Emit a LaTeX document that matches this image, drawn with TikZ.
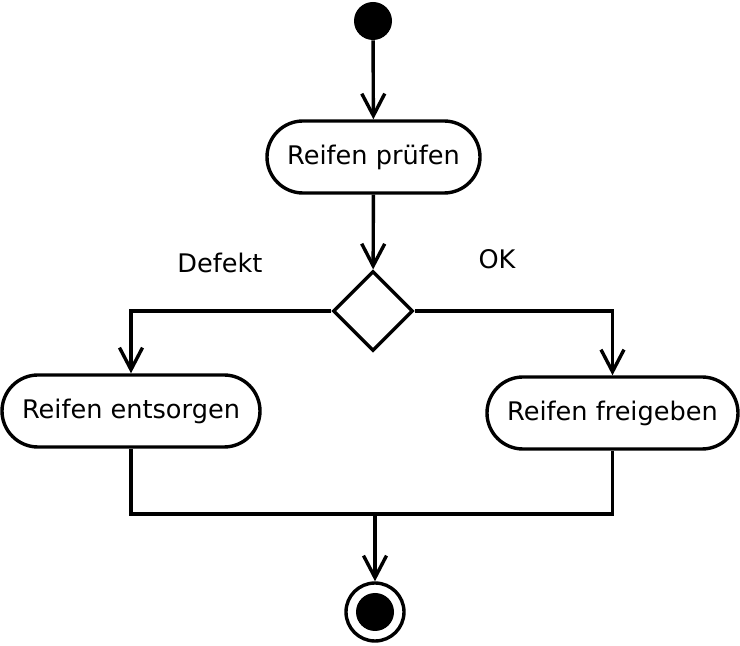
\documentclass[tikz,border=0pt]{standalone}
\usepackage{fontspec}
\setmainfont{DejaVu Sans}
\usetikzlibrary{shapes.geometric,shapes.misc,arrows.meta}
\begin{document}
\begin{tikzpicture}[x=0.5pt,y=-0.5pt,
  every node/.style={font=\fontsize{12.8}{15}\selectfont},
  action/.style={draw,line width=1.7pt,rounded rectangle,minimum height=36pt,inner sep=0pt,fill=white},
  decision/.style={draw,line width=1.7pt,diamond,minimum width=40pt,minimum height=40pt,inner sep=0pt,aspect=1},
  conn/.style={line width=1.7pt},
  flow/.style={conn,-{Straight Barb[length=11pt,width=11.5pt,line width=1.7pt]}},
  lbl/.style={inner sep=0pt}]
\useasboundingbox (0,0) rectangle (740,646);
\node[circle,fill=black,minimum size=19pt,inner sep=0pt] (start) at (373,21) {};
\node[action,minimum width=106.5pt] (check) at (373.5,157) {Reifen prüfen};
\node[decision] (dec) at (373,311) {};
\node[action,minimum width=129pt] (dispose) at (131,411) {Reifen entsorgen};
\node[action,minimum width=125.5pt] (release) at (612.5,413) {Reifen freigeben};
\node[circle,draw,line width=1.7pt,minimum size=29pt,inner sep=0pt] (end) at (375,612) {};
\node[circle,fill=black,minimum size=19pt,inner sep=0pt] (endin) at (end.center) {};
\node[lbl] (ldef) at (220,263) {Defekt};
\node[lbl] (lok) at (497,259) {OK};
\coordinate (merge) at (375,514);
\draw[flow] (start) -- (check);
\draw[flow] (check) -- (dec);
\draw[flow] (dec.west) -| (dispose.north);
\draw[flow] (dec.east) -| (release.north);
\draw[conn] (dispose.south) |- (merge) -| (release.south);
\draw[flow] (merge) -- (end);
\end{tikzpicture}
\end{document}
